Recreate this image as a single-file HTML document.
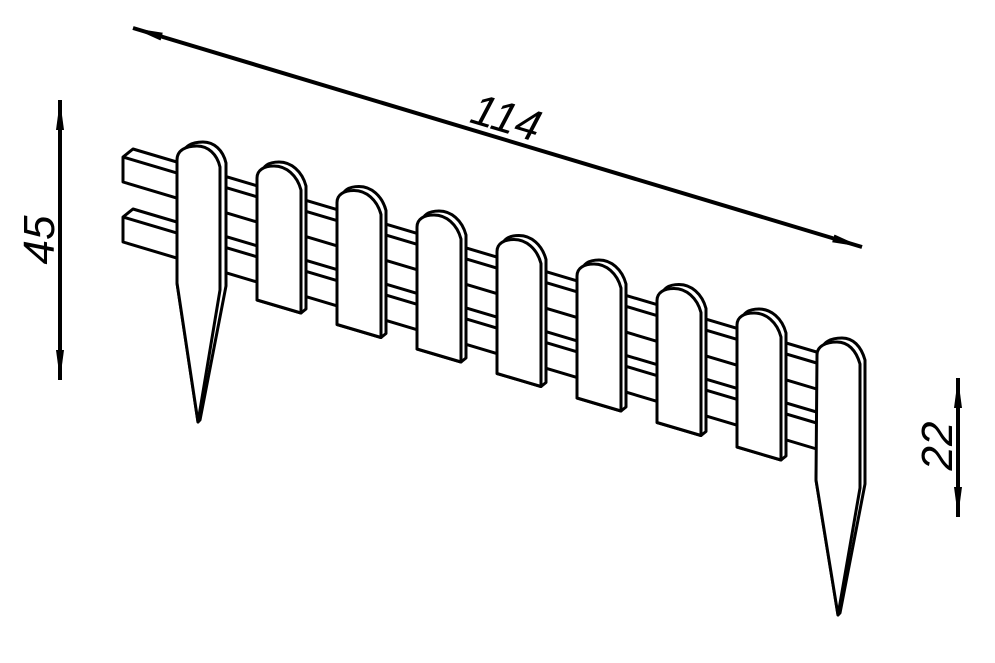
<!DOCTYPE html>
<html><head><meta charset="utf-8"><style>html,body{margin:0;padding:0;background:#fff}svg{display:block}</style></head>
<body>
<svg width="995" height="663" viewBox="0 0 995 663" xmlns="http://www.w3.org/2000/svg">
<defs>
<marker id="ar" viewBox="0 0 30 10" refX="30" refY="5" markerWidth="30" markerHeight="10" markerUnits="userSpaceOnUse" orient="auto-start-reverse"><path d="M0,1 L30,5 L0,9 Z" fill="#000"/></marker>
<g id="pk" stroke="#000" stroke-width="3" stroke-linejoin="round" fill="#fff">
<path d="M262,174 C262,166 269,162 279,162 C291,162 302,171 306,186 L306,309 L301,313 L257,300 Z"/>
<path d="M257,178 C257,170 264,166 274,166 C286,166 297,175 301,190 L301,313 L257,300 Z"/>
</g>
</defs>
<g stroke="#000" stroke-width="3" stroke-linejoin="round" fill="#fff">
<!-- rails -->
<path d="M123,157 L133,149 L830,356 L830,382 L820,390 L123,182 Z"/>
<path d="M123,157 L820,364" fill="none"/>
<path d="M123,217 L133,209 L830,416 L830,442 L820,450 L123,242 Z"/>
<path d="M123,217 L820,424" fill="none"/>
<!-- stake 1 -->
<path d="M183,156 C183,146 192,142 203,142 C214,142 223,150 226,163 L226,286 L200,420 L198,422 L177,283 Z"/>
<path d="M177,160 C177,150 186,146 197,146 C208,146 217,154 220,167 L220,290 L198,422 L177,283 Z"/>
</g>
<use href="#pk"/>
<use href="#pk" transform="translate(80,24.5)"/>
<use href="#pk" transform="translate(160,49)"/>
<use href="#pk" transform="translate(240,73.5)"/>
<use href="#pk" transform="translate(320,98)"/>
<use href="#pk" transform="translate(400,122.5)"/>
<use href="#pk" transform="translate(480,147)"/>
<g stroke="#000" stroke-width="3" stroke-linejoin="round" fill="#fff">
<!-- stake 2 -->
<path d="M822,351 C822,342 831,338 842,338 C853,338 861,346 865,360 L865,484 L840,613 L838,615 L816,480 Z"/>
<path d="M817,355 C817,346 826,342 837,342 C848,342 856,350 860,364 L860,488 L838,615 L816,480 Z"/>
</g>
<!-- dimensions -->
<g stroke="#000" stroke-width="4" fill="none">
<line x1="133" y1="28" x2="862" y2="247" marker-start="url(#ar)" marker-end="url(#ar)"/>
<line x1="60" y1="100" x2="60" y2="380" marker-start="url(#ar)" marker-end="url(#ar)"/>
<line x1="958" y1="378" x2="958" y2="517" marker-start="url(#ar)" marker-end="url(#ar)"/>
</g>
<g font-family="Liberation Sans, sans-serif" font-style="italic" font-size="44" fill="#000">
<text x="0" y="0" text-anchor="middle" transform="translate(502,132) rotate(16.7)">114</text>
<text x="0" y="0" text-anchor="middle" transform="translate(54,240) rotate(-90)">45</text>
<text x="0" y="0" text-anchor="middle" transform="translate(952,446) rotate(-90)">22</text>
</g>
</svg>
</body></html>
